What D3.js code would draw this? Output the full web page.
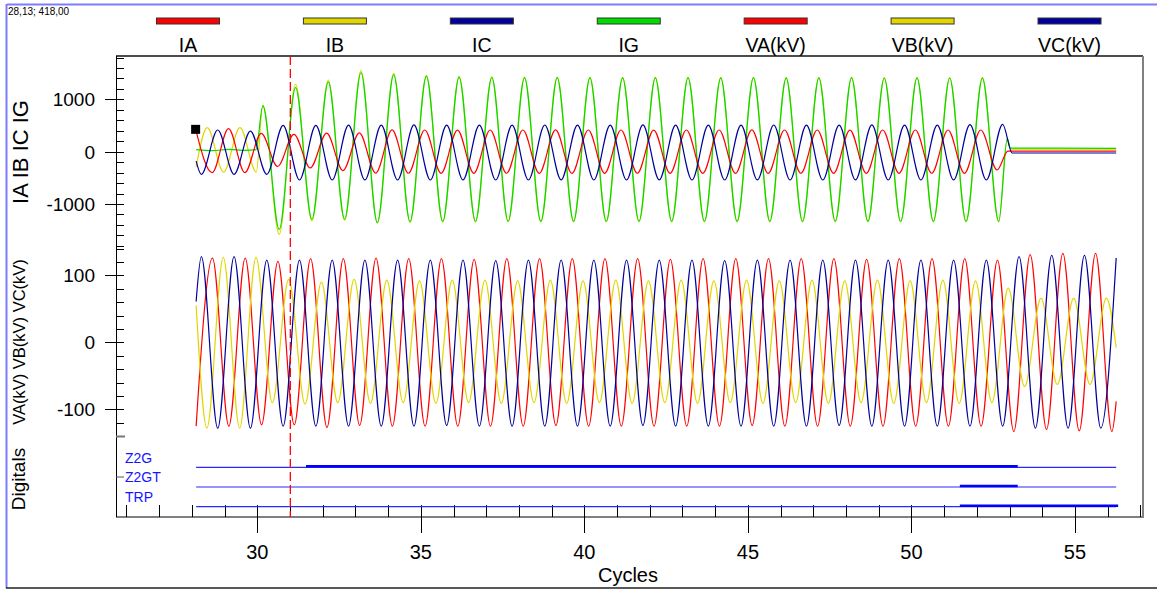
<!DOCTYPE html>
<html lang="en">
<head>
<meta charset="UTF-8">
<script src="https://cdnjs.cloudflare.com/ajax/libs/d3/7.8.5/d3.min.js"></script>
<style>
    body { margin: 0; background: #fff; }
    svg text { font-family: "Liberation Sans", Arial, sans-serif; fill: #000; }
</style>
</head>
<body>
<svg id="chart" width="1157" height="589"></svg>
<script>
    // ---- data (x in cycles) ----
    var legendNames = ["IA", "IB", "IC", "IG", "VA(kV)", "VB(kV)", "VC(kV)"];
    var legendColors = ["#ff0000", "#e2d600", "#00009c", "#00dc00", "#ff0000", "#e2d600", "#00009c"];

    var xTicksMajor = [30, 35, 40, 45, 50, 55];
    var currentTicks = [-1000, 0, 1000];
    var voltageTicks = [-100, 0, 100];
    var digitalNames = ["Z2G", "Z2GT", "TRP"];

    var halfCycle = 0.5;

    // extrema of each waveform, one value every half cycle from the given start
    var iaStart = 28.12;
    var iaPeaks = [418, -400, 440, -400, 350, -280, 333, -310, 355, -360, 360, -410,
        416, -412, 415, -413, 414, -413, 415, -412, 415, -413,
        416, -413, 415, -413, 415, -412, 414, -413, 415, -413,
        415, -413, 416, -413, 415, -412, 415, -413, 414, -413,
        415, -413, 415, -412, 415, -413, 415, -350];
    var iaTail = [[52.95, 13], [56.26, 13]];

    var ibHead = [[28.13, -290]];
    var ibPreStart = 28.47;
    var ibPrePeaks = [460, -390, 460, -390];
    var ibStart = 30.17;
    var ibPeaks = [890, -1580, 1290, -1325, 1370, -1310, 1550, -1365, 1500, -1350, 1460, -1345,
        1440, -1342, 1432, -1340, 1428, -1340, 1425, -1340,
        1422, -1340, 1420, -1338, 1420, -1340, 1422, -1340, 1420, -1340,
        1420, -1340, 1418, -1340, 1420, -1340, 1420, -1338, 1418, -1340,
        1420, -1340, 1418, -1340, 1420, -1342];
    var ibTail = [[52.93, 240], [53.03, 50], [56.26, 50]];

    var icHead = [[28.13, -180]];
    var icStart = 28.29;
    var icPeaks = [-433, 415, -433, 395, -432, 505, -541, 505,
        -541, 510, -540, 510, -541, 512, -541, 510, -540, 510,
        -541, 510, -541, 511, -540, 510, -541, 510, -541, 512,
        -540, 510, -541, 510, -541, 510, -540, 511, -541, 510,
        -541, 510, -540, 512, -541, 510, -541, 510, -540, 518,
        -541, 524];
    var icTail = [[53.08, -25], [56.26, -25]];

    var igPreStart = 28.13;
    var igPrePeaks = [40, 20, 45, 24];
    var igStep = [[29.96, 40]];
    var igStart = 30.17;
    var igPeaks = [875, -1485, 1225, -1290, 1330, -1290, 1510, -1355, 1470, -1335, 1440, -1330,
        1420, -1330, 1415, -1328, 1412, -1330, 1410, -1330,
        1410, -1330, 1408, -1328, 1410, -1330, 1410, -1330, 1408, -1330,
        1410, -1330, 1406, -1330, 1408, -1328, 1410, -1330, 1405, -1330,
        1408, -1330, 1405, -1330, 1404, -1332];
    var igTail = [[52.93, 250], [53.03, 70], [56.26, 65]];

    var vaStart = 28.13;
    var vaPeaks = [-125, 126, -125, 126, -123, 121, -123, 125, -127, 125, -124, 126,
        -125, 125, -125, 125, -125, 124, -125, 125, -125, 125,
        -124, 125, -125, 125, -125, 125, -125, 124, -125, 125,
        -125, 125, -124, 125, -125, 125, -125, 125, -125, 124,
        -125, 125, -125, 125, -125, 125, -125,
        123, -133, 131, -130, 133, -132, 133, -133];
    var vaTail = [[56.26, -88]];

    var vbHead = [[28.13, 55]];
    var vbStart = 28.46;
    var vbPeaks = [-128, 127, -128, 127, -90, 94, -92, 90, -90, 94,
        -91, 93, -90, 92, -91, 93, -90, 93, -91, 92,
        -90, 93, -91, 92, -90, 93, -91, 92, -90, 93,
        -91, 92, -90, 93, -91, 92, -90, 93, -91, 92,
        -90, 93, -91, 92, -90, 93, -91, 92, -90,
        81, -66, 66, -63, 66, -63, 66];
    var vbTail = [[56.26, -8]];

    var vcHead = [[28.13, 61]];
    var vcStart = 28.29;
    var vcPeaks = [128, -128, 128, -128,
        123, -125, 123, -125, 123, -125, 123, -125, 123, -125,
        123, -124, 123, -125, 122, -125, 123, -125, 123, -125,
        123, -125, 123, -124, 123, -125, 123, -125, 122, -125,
        123, -125, 123, -125, 123, -124, 123, -125, 123, -125,
        123, -125, 123, -125, 123, -125,
        128, -128, 130, -128, 130, -128];
    var vcTail = [[56.26, 126]];

    // digital channels: thin trace span, then [from, to] where the bit is set
    var digitalSpan = [28.13, 56.26];
    var digitalOn = {
        "Z2G": [[31.49, 53.25]],
        "Z2GT": [[51.48, 53.25]],
        "TRP": [[51.48, 56.32]]
    };

    var cursorCycle = 31.01;
    var markerPoint = [28.13, 418];

    function seg(start, vals) {
        return vals.map(function (v, i) {
            return [start + i * halfCycle, v];
        });
    }

    var currents = [
        {name: "IB", color: legendColors[1], pts: ibHead.concat(seg(ibPreStart, ibPrePeaks), seg(ibStart, ibPeaks), ibTail)},
        {name: "IG", color: legendColors[3], pts: seg(igPreStart, igPrePeaks).concat(igStep, seg(igStart, igPeaks), igTail)},
        {name: "IA", color: legendColors[0], pts: seg(iaStart, iaPeaks).concat(iaTail)},
        {name: "IC", color: legendColors[2], pts: icHead.concat(seg(icStart, icPeaks), icTail)}
    ];
    var voltages = [
        {name: "VA", color: legendColors[4], pts: seg(vaStart, vaPeaks).concat(vaTail)},
        {name: "VB", color: legendColors[5], pts: vbHead.concat(seg(vbStart, vbPeaks), vbTail)},
        {name: "VC", color: legendColors[6], pts: vcHead.concat(seg(vcStart, vcPeaks), vcTail)}
    ];

    // ---- layout ----
    var plotL = 116, plotR = 1143, plotT = 56, plotB = 517;
    var svg = d3.select("#chart");

    var x = d3.scaleLinear().domain([25.68, 57.08]).range([plotL, plotR]);
    var yI = d3.scaleLinear().domain([-1822, 1830]).range([247, plotT]);
    var yV = d3.scaleLinear().domain([-140.5, 141]).range([436.5, 248]);
    var yD = d3.scalePoint().domain(digitalNames).range([467.3, 506.7]);

    // outer frame
    svg.append("line").attr("x1", 7).attr("x2", 1157).attr("y1", 4.5).attr("y2", 4.5)
        .attr("stroke", "#7c7cff").attr("stroke-width", 2);
    svg.append("line").attr("x1", 6.5).attr("x2", 6.5).attr("y1", 4).attr("y2", 588)
        .attr("stroke", "#7c7cff").attr("stroke-width", 2);
    svg.append("line").attr("x1", 6).attr("x2", 1157).attr("y1", 588).attr("y2", 588)
        .attr("stroke", "#222").attr("stroke-width", 1.5);
    svg.append("text").attr("x", 8).attr("y", 15).attr("font-size", 10).text("28,13; 418,00");

    // legend
    var lx = d3.scalePoint().domain(legendNames).range([188, 1069.5]);
    var leg = svg.selectAll("g.leg").data(legendNames).enter().append("g").attr("class", "leg")
        .attr("transform", function (d) { return "translate(" + lx(d) + ",0)"; });
    leg.append("rect").attr("x", -31.5).attr("y", 18).attr("width", 63).attr("height", 6)
        .attr("fill", function (d, i) { return legendColors[i]; })
        .attr("stroke", "#333").attr("stroke-width", 1);
    leg.append("text").attr("y", 52).attr("text-anchor", "middle").attr("font-size", 19.5)
        .text(function (d) { return d; });

    // plot box
    svg.append("line").attr("x1", plotL).attr("x2", plotR).attr("y1", plotT).attr("y2", plotT)
        .attr("stroke", "#111").attr("stroke-width", 1.5);
    svg.append("line").attr("x1", plotR).attr("x2", plotR).attr("y1", plotT).attr("y2", plotB + 1)
        .attr("stroke", "#808080").attr("stroke-width", 2);
    svg.append("line").attr("x1", plotL).attr("x2", plotR).attr("y1", plotB).attr("y2", plotB)
        .attr("stroke", "#808080").attr("stroke-width", 2);
    svg.append("line").attr("x1", plotL + 0.5).attr("x2", plotL + 0.5).attr("y1", plotT).attr("y2", plotB)
        .attr("stroke", "#000").attr("stroke-width", 1);

    // y ticks
    function yTicks(scale, minor, major) {
        var g = svg.append("g");
        g.selectAll("line.mn").data(minor).enter().append("line")
            .attr("x1", plotL).attr("x2", plotL + 8)
            .attr("y1", function (d) { return Math.round(scale(d)) + 0.5; })
            .attr("y2", function (d) { return Math.round(scale(d)) + 0.5; })
            .attr("stroke", "#000");
        g.selectAll("line.mj").data(major).enter().append("line")
            .attr("x1", plotL - 11).attr("x2", plotL + 8)
            .attr("y1", function (d) { return Math.round(scale(d)) + 0.5; })
            .attr("y2", function (d) { return Math.round(scale(d)) + 0.5; })
            .attr("stroke", "#000");
        g.selectAll("text").data(major).enter().append("text")
            .attr("x", 95).attr("y", function (d) { return scale(d) + 7; })
            .attr("text-anchor", "end").attr("font-size", 19)
            .text(function (d) { return d; });
    }
    yTicks(yI, d3.range(-1800, 1801, 200), currentTicks);
    yTicks(yV, d3.range(-140, 141, 20), voltageTicks);
    svg.append("line").attr("x1", plotL).attr("x2", plotL + 9).attr("y1", 436.5).attr("y2", 436.5)
        .attr("stroke", "#777").attr("stroke-width", 2);
    svg.append("line").attr("x1", plotL).attr("x2", plotL + 8).attr("y1", 477).attr("y2", 477)
        .attr("stroke", "#555").attr("stroke-width", 1);

    // x axis
    var xg = svg.append("g");
    xg.selectAll("line.mn").data(d3.range(26, 58)).enter().append("line")
        .attr("x1", function (d) { return Math.round(x(d)) + 0.5; })
        .attr("x2", function (d) { return Math.round(x(d)) + 0.5; })
        .attr("y1", plotB - 12).attr("y2", plotB).attr("stroke", "#000");
    xg.selectAll("line.mj").data(xTicksMajor).enter().append("line")
        .attr("x1", function (d) { return Math.round(x(d)) + 0.5; })
        .attr("x2", function (d) { return Math.round(x(d)) + 0.5; })
        .attr("y1", plotB - 12).attr("y2", plotB + 16).attr("stroke", "#000");
    xg.selectAll("text").data(xTicksMajor).enter().append("text")
        .attr("x", function (d) { return x(d); }).attr("y", 559)
        .attr("text-anchor", "middle").attr("font-size", 20)
        .text(function (d) { return d; });
    svg.append("text").attr("x", 628).attr("y", 582).attr("text-anchor", "middle")
        .attr("font-size", 20).text("Cycles");

    // axis titles
    function vTitle(cx, cy, size, txt) {
        svg.append("text").attr("transform", "translate(" + cx + "," + cy + ") rotate(-90)")
            .attr("text-anchor", "middle").attr("font-size", size).text(txt);
    }
    vTitle(28, 152, 22, "IA IB IC IG");
    vTitle(25, 342, 16.5, "VA(kV) VB(kV) VC(kV)");
    vTitle(25, 479, 19, "Digitals");

    // waveforms
    function drawWaves(list, yScale) {
        var line = d3.line()
            .x(function (d) { return x(d[0]); })
            .y(function (d) { return yScale(d[1]); })
            .curve(d3.curveMonotoneX);
        svg.append("g").selectAll("path").data(list).enter().append("path")
            .attr("d", function (d) { return line(d.pts); })
            .attr("fill", "none")
            .attr("stroke", function (d) { return d.color; })
            .attr("stroke-width", 1.2);
    }
    drawWaves(currents, yI);
    drawWaves(voltages, yV);

    // digitals
    var dg = svg.append("g");
    dg.selectAll("line.base").data(digitalNames).enter().append("line")
        .attr("x1", x(digitalSpan[0])).attr("x2", x(digitalSpan[1]))
        .attr("y1", function (d) { return yD(d); }).attr("y2", function (d) { return yD(d); })
        .attr("stroke", "#2a2aff").attr("stroke-width", 1.2);
    digitalNames.forEach(function (n) {
        dg.selectAll(null).data(digitalOn[n]).enter().append("line")
            .attr("x1", function (d) { return x(d[0]); }).attr("x2", function (d) { return x(d[1]); })
            .attr("y1", yD(n) - 1).attr("y2", yD(n) - 1)
            .attr("stroke", "#0000ff").attr("stroke-width", 2.5);
    });
    dg.selectAll("text").data(digitalNames).enter().append("text")
        .attr("x", 125).attr("y", function (d) { return yD(d) - 4.8; })
        .attr("font-size", 14).style("fill", "#1515ff")
        .text(function (d) { return d; });

    // cursor
    svg.append("line").attr("x1", x(cursorCycle)).attr("x2", x(cursorCycle))
        .attr("y1", plotT).attr("y2", plotB)
        .attr("stroke", "#ff0000").attr("stroke-width", 1.3).attr("stroke-dasharray", "9,4");
    svg.append("rect").attr("x", x(markerPoint[0]) - 5).attr("y", yI(markerPoint[1]) - 5)
        .attr("width", 9).attr("height", 9).attr("fill", "#000");
</script>
</body>
</html>
